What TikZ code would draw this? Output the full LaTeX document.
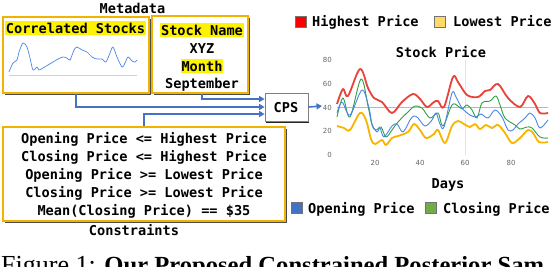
\documentclass[tikz,border=0pt]{standalone}
\usepackage{fontspec}
\setmainfont{Liberation Serif}
\newfontfamily\cmono{DejaVu Sans Mono}
\newfontfamily\csans{DejaVu Sans}
\usetikzlibrary{arrows.meta,shadows}
\definecolor{gold}{HTML}{F2B200}
\definecolor{arrowblue}{HTML}{4472C4}
\definecolor{cred}{HTML}{E8423A}
\definecolor{cyel}{HTML}{F7B500}
\definecolor{cgreen}{HTML}{2E9E48}
\definecolor{cblue}{HTML}{4A86E8}
\definecolor{lgred}{HTML}{FF0000}
\definecolor{lgyel}{HTML}{FFD966}
\definecolor{lgblue}{HTML}{4472C4}
\definecolor{lggreen}{HTML}{70AD47}
\tikzset{
  mbox/.style={draw=gold, line width=1.8pt, fill=white, inner sep=0pt,
    drop shadow={shadow xshift=2.2pt, shadow yshift=-2.2pt, fill=black!70, opacity=1}},
  cpsbox/.style={draw=black!50, line width=0.8pt, fill=white, inner sep=0pt,
    minimum width=43pt, minimum height=28pt,
    drop shadow={shadow xshift=0.6pt, shadow yshift=-1.6pt, fill=black!85, opacity=1}},
  txt/.style={font=\cmono\bfseries\fontsize{13.6}{16}\selectfont, inner sep=0pt},
  hl/.style={txt, fill=yellow, inner xsep=1pt, inner ysep=1.5pt},
  arr/.style={draw=arrowblue, line width=1.6pt, -{Triangle[length=5.5pt,width=6pt]}},
  tick/.style={font=\csans\fontsize{7}{8}\selectfont, text=black!60, inner sep=0pt},
  lgsq/.style={draw=black!55, line width=0.5pt, minimum size=11pt, inner sep=0pt},
  thickc/.style={line width=1.8pt, line join=round},
  thinc/.style={line width=0.9pt, line join=round},
}
\begin{document}
\begin{tikzpicture}[x=1pt,y=-1pt]
\clip (0,0) rectangle (554,266);
\fill[white] (0,0) rectangle (554,266);

% ---------- left boxes ----------
\node[mbox, minimum width=146pt, minimum height=76pt] (box1) at (76,55) {};
\node[mbox, minimum width=96pt, minimum height=77pt] (box2) at (200,54.5) {};
\node[mbox, minimum width=282pt, minimum height=94pt] (cons) at (144,174) {};
\node[cpsbox] (cps) at (286.5,107) {};

\node[txt, anchor=base] (meta) at (132.5,13) {Metadata};
\node[hl, anchor=base] (corr) at (75.5,33) {Correlated Stocks};
\node[hl, anchor=base] (sname) at (202,35) {Stock Name};
\node[txt, anchor=base] (xyz) at (202,53) {XYZ};
\node[hl, anchor=base] (month) at (202,71) {Month};
\node[txt, anchor=base] (sept) at (202,88) {September};

\node[txt, anchor=base] (c1) at (144,143) {Opening Price <= Highest Price};
\node[txt, anchor=base] (c2) at (144,161) {Closing Price <= Highest Price};
\node[txt, anchor=base] (c3) at (144,179) {Opening Price >= Lowest Price};
\node[txt, anchor=base] (c4) at (144,197) {Closing Price >= Lowest Price};
\node[txt, anchor=base] (c5) at (144,215) {Mean(Closing Price) == \$35};
\node[txt, anchor=base] (clab) at (134,235) {Constraints};

\node[txt, anchor=base] (cpst) at (286,112) {CPS};

% sparkline
\draw[black!18, line width=0.7pt] (9,75) -- (137,75);
\draw[cblue, line width=0.7pt, line join=round] plot[smooth, tension=0.5] coordinates {
(9,72) (13,63) (17,60) (19,52) (23,43) (27,47) (30,58) (33,70) (37,67) (39,70)
(43,68) (48,65) (53,62) (58,59) (63,57) (67,58) (70,60) (74,50) (77,47) (82,50)
(87,52) (92,57) (97,59) (102,59) (106,62) (110,53) (113,47) (117,57) (122,67)
(125,63) (128,57) (132,61) (135,62) (137,60)};

% connectors
\draw[arr] (box1.south) |- (cps.west);
\draw[arr] ([xshift=2pt]box2.south) |- ([yshift=8pt]cps.west);
\draw[arr] (cons.north) |- ([yshift=-7pt]cps.west);
\coordinate (chartin) at (322,106);
\draw[arr] (cps.east) -- (chartin);

% ---------- chart ----------
\node[lgsq, fill=lgred] (lg1) at (301,21.5) {};
\node[txt, anchor=base west] (lg1t) at (312,26) {Highest Price};
\node[lgsq, fill=lgyel] (lg2) at (440,21.5) {};
\node[txt, anchor=base west] (lg2t) at (453,26) {Lowest Price};
\node[txt, anchor=base] (title) at (441,57) {Stock Price};
\node[txt, anchor=base] (days) at (448,188) {Days};
\node[lgsq, fill=lgblue] (lg3) at (297,207.5) {};
\node[txt, anchor=base west] (lg3t) at (308,213) {Opening Price};
\node[lgsq, fill=lggreen] (lg4) at (430.5,207.5) {};
\node[txt, anchor=base west] (lg4t) at (443,213) {Closing Price};

\draw[black!10, line width=0.8pt] (465.5,60) -- (465.5,155);
\draw[black!28, line width=0.9pt] (337,107) -- (548,107);

\node[tick, anchor=base east] (y80) at (332,62) {80};
\node[tick, anchor=base east] (y60) at (332,86) {60};
\node[tick, anchor=base east] (y40) at (332,110) {40};
\node[tick, anchor=base east] (y20) at (332,133.5) {20};
\node[tick, anchor=base east] (y0) at (332,157) {0};
\node[tick, anchor=base] (x20) at (375,165) {20};
\node[tick, anchor=base] (x40) at (420,165) {40};
\node[tick, anchor=base] (x60) at (465,165) {60};
\node[tick, anchor=base] (x80) at (511,165) {80};

% curves
\draw[cgreen, thinc] plot[smooth, tension=0.55] coordinates {
(337,117) (343,98) (350,117) (361,79) (368,106) (372,125) (376,130) (381,127)
(386,137) (392,130) (398,122) (410,110) (415,106) (422,108) (430,118) (438,113)
(443,126) (452,105) (458,106) (462,109) (467,105) (472,110) (477,118) (482,103)
(490,101) (496,96) (500,105) (505,118) (515,125) (520,129) (527,127) (532,128)
(540,137) (548,138)};
\draw[cblue, thinc] plot[smooth, tension=0.55] coordinates {
(337,113) (342,102) (350,115) (362,90) (369,108) (372,124) (377,132) (380,128)
(384,137) (392,126) (397,124) (403,132) (410,120) (414,116) (418,118) (425,126)
(432,120) (436,113) (440,124) (444,127) (452,93) (456,97) (462,108) (470,115)
(476,117) (481,114) (488,118) (495,110) (502,117) (508,130) (513,130) (518,124)
(525,118) (530,113) (535,118) (540,128) (548,120)};
\draw[cyel, thickc] plot[smooth, tension=0.55] coordinates {
(337,126) (344,128) (350,130) (360,113) (366,120) (371,139) (375,144) (382,140)
(386,145) (392,138) (398,136) (408,132) (414,124) (420,130) (426,138) (434,134)
(438,130) (445,143) (452,126) (458,121) (464,124) (470,127) (475,124) (480,129)
(486,125) (492,128) (498,125) (505,133) (512,143) (520,138) (528,130) (533,133)
(539,142) (548,142)};
\draw[cred, thickc] plot[smooth, tension=0.55] coordinates {
(337,104) (343,89) (348,96) (360,69) (368,88) (374,98) (382,102) (392,113)
(402,102) (413,94) (420,99) (427,107) (434,102) (438,101) (444,107) (453,77)
(458,82) (467,95) (478,97) (485,91) (490,90) (498,84) (508,98) (520,107)
(528,96) (535,104) (540,113) (548,113)};

% caption (cut off by the frame, as in the reference)
\node[anchor=base west, inner sep=0pt, font=\fontsize{26}{30}\selectfont] (cap) at (1,273)
  {Figure 1: {\fontsize{24.6}{30}\selectfont\bfseries Our Proposed Constrained Posterior Sam}};
\end{tikzpicture}
\end{document}
